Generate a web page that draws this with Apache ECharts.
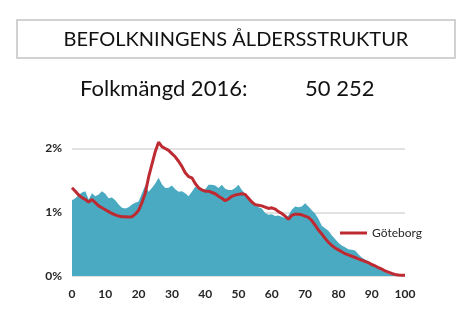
<!DOCTYPE html>
<html><head><meta charset="utf-8">
<script src="https://cdn.jsdelivr.net/npm/echarts@6/dist/echarts.min.js"></script>
<style>html,body{margin:0;padding:0;background:#fff}#c{width:472px;height:328px}</style>
</head><body><div id="c"></div>
<script>
const title = 'BEFOLKNINGENS ÅLDERSSTRUKTUR';
const subtitleLabel = 'Folkmängd 2016:';
const subtitleValue = '50 252';
const xTicks = [0,10,20,30,40,50,60,70,80,90,100];
const yTicks = ['0%','1%','2%'];
const municipality = [
1.19,1.22,1.27,1.31,1.33,1.20,1.30,1.25,1.28,1.33,
1.29,1.22,1.23,1.19,1.12,1.07,1.06,1.08,1.12,1.15,
1.17,1.30,1.42,1.32,1.38,1.45,1.54,1.44,1.38,1.385,
1.42,1.36,1.32,1.33,1.30,1.25,1.32,1.40,1.36,1.35,
1.36,1.43,1.43,1.42,1.38,1.43,1.37,1.35,1.35,1.38,
1.43,1.35,1.29,1.22,1.17,1.13,1.08,1.06,0.99,0.96,
0.97,0.94,0.95,0.93,0.91,0.95,1.04,1.09,1.08,1.09,
1.14,1.09,1.03,0.98,0.90,0.79,0.75,0.71,0.64,0.58,
0.52,0.48,0.45,0.42,0.41,0.40,0.34,0.29,0.26,0.23,
0.19,0.15,0.12,0.09,0.06,0.04,0.02,0.01,0,0,0];
const goteborg = [
1.385,1.33,1.27,1.23,1.20,1.16,1.20,1.15,1.10,1.07,
1.04,1.01,0.98,0.96,0.94,0.93,0.93,0.925,0.93,0.97,
1.03,1.15,1.30,1.55,1.75,1.95,2.10,2.03,2.00,1.97,
1.92,1.87,1.80,1.72,1.62,1.56,1.54,1.45,1.385,1.35,
1.33,1.33,1.31,1.29,1.25,1.22,1.18,1.21,1.25,1.27,
1.28,1.29,1.28,1.22,1.16,1.12,1.11,1.10,1.08,1.06,
1.07,1.05,1.01,0.98,0.94,0.89,0.95,0.97,0.97,0.96,
0.94,0.92,0.87,0.80,0.72,0.66,0.59,0.53,0.48,0.44,
0.41,0.38,0.35,0.33,0.31,0.29,0.27,0.25,0.23,0.21,
0.18,0.16,0.13,0.11,0.08,0.06,0.04,0.025,0.015,0.01,0.01];
const seriesName = 'Göteborg';

const pairs = arr => arr.map((v,i)=>[i,v]);
const chart = echarts.init(document.getElementById('c'));
const font = 'Lato, "Open Sans", sans-serif';
chart.setOption({
  animation:false,
  backgroundColor:'#fff',
  grid:{left:72,right:67,top:148.5,bottom:52,containLabel:false},
  xAxis:{type:'value',min:0,max:100,interval:10,
    axisLine:{show:false},axisTick:{show:false},splitLine:{show:false},
    axisLabel:{margin:12,color:'#262626',fontWeight:'bold',fontSize:12,fontFamily:font,
      formatter:v=>xTicks.includes(v)?String(v):''}},
  yAxis:{type:'value',min:0,max:2,interval:1,
    axisLine:{show:false},axisTick:{show:false},
    splitLine:{lineStyle:{color:'#d9d9d9',width:1.5}},
    axisLabel:{margin:10,color:'#262626',fontWeight:'bold',fontSize:12,fontFamily:font,
      formatter:v=>yTicks[Math.round(v)]}},
  legend:{data:[{name:seriesName,icon:'rect'}],left:335,top:222,itemWidth:27,itemHeight:3,itemGap:2,
    textStyle:{color:'#262626',fontSize:12,fontFamily:font}},
  graphic:[
    {type:'rect',shape:{x:17,y:20,width:438,height:38},style:{fill:'#fff',stroke:'#c4c4c4',lineWidth:1.5}},
    {type:'text',x:236,y:40,style:{text:title,fill:'#111',font:'20px '+font,align:'center',verticalAlign:'middle'}},
    {type:'text',x:80,y:89,style:{text:subtitleLabel,fill:'#111',font:'22px '+font,align:'left',verticalAlign:'middle'}},
    {type:'text',x:305,y:89,style:{text:subtitleValue,fill:'#111',font:'22px '+font,align:'left',verticalAlign:'middle'}}
  ],
  series:[
    {name:'Kommun',type:'line',data:pairs(municipality),showSymbol:false,
      lineStyle:{width:0},areaStyle:{color:'#4aaac2',opacity:1},itemStyle:{color:'#4aaac2'},z:1},
    {name:seriesName,type:'line',data:pairs(goteborg),showSymbol:false,clip:false,
      lineStyle:{width:3,color:'#be2a32'},itemStyle:{color:'#be2a32'},z:2}
  ]
});
</script></body></html>
